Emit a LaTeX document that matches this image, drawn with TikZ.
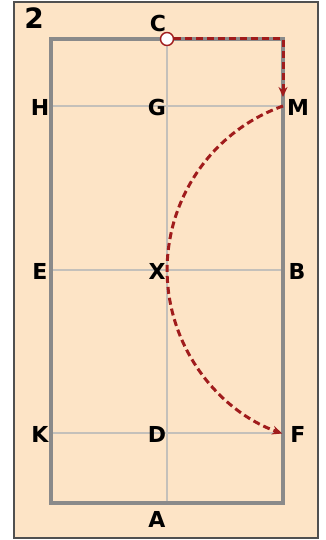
\documentclass[tikz,border=0pt]{standalone}
\usepackage{fontspec}
\setmainfont{DejaVu Sans}
\usetikzlibrary{arrows.meta}
\definecolor{bgpeach}{HTML}{FDE4C6}
\definecolor{framegray}{HTML}{505050}
\definecolor{arenagray}{HTML}{8A8A8A}
\definecolor{linegray}{HTML}{C4C0BA}
\definecolor{pathred}{HTML}{A01C1C}
\tikzset{
  lbl/.style={font=\bfseries\fontsize{22}{22}\selectfont, inner sep=0pt},
  route/.style={draw=pathred, line width=3pt, dash pattern=on 7pt off 4pt},
  tip/.style={-{Stealth[length=10pt,width=9pt]}}
}
\begin{document}
\begin{tikzpicture}[x=1pt,y=-1pt]
\useasboundingbox (0,0) rectangle (326,540);
\fill[bgpeach] (14,2) rectangle (318,538);
\draw[framegray, line width=2.2pt] (14,2) rectangle (318,538);
% arena lines
\draw[linegray, line width=1.3pt] (167,39) -- (167,503);
\draw[linegray, line width=1.3pt] (51,106) -- (283,106);
\draw[linegray, line width=1.3pt] (51,270) -- (283,270);
\draw[linegray, line width=1.3pt] (51,433) -- (283,433);
\draw[arenagray, line width=3.2pt] (51,39) rectangle (283,503);
% labels
\node[font=\bfseries\fontsize{28}{28}\selectfont, inner sep=0pt] (two) at (34,18) {2};
\node[lbl] (C) at (158,23) {C};
\node[lbl] (H) at (40,107) {H};
\node[lbl] (G) at (157,107) {G};
\node[lbl] (M) at (298,107) {M};
\node[lbl] (E) at (40,271) {E};
\node[lbl] (X) at (157,271) {X};
\node[lbl] (B) at (297,271) {B};
\node[lbl] (K) at (40,434) {K};
\node[lbl] (D) at (157,434) {D};
\node[lbl] (F) at (298,434) {F};
\node[lbl] (A) at (157,519) {A};
% route
\coordinate (corner) at (283,39);
\coordinate (down) at (283,97);
\coordinate (mstart) at (283,106);
\node[circle, draw=pathred, fill=white, line width=1.4pt, minimum size=13pt, inner sep=0pt] (start) at (167,39) {};
\draw[route, tip] (start.east) -- (corner) -- (down);
\draw[route, tip] (mstart) arc[start angle=250.5, end angle=109.8, radius=173.9];
\end{tikzpicture}
\end{document}
